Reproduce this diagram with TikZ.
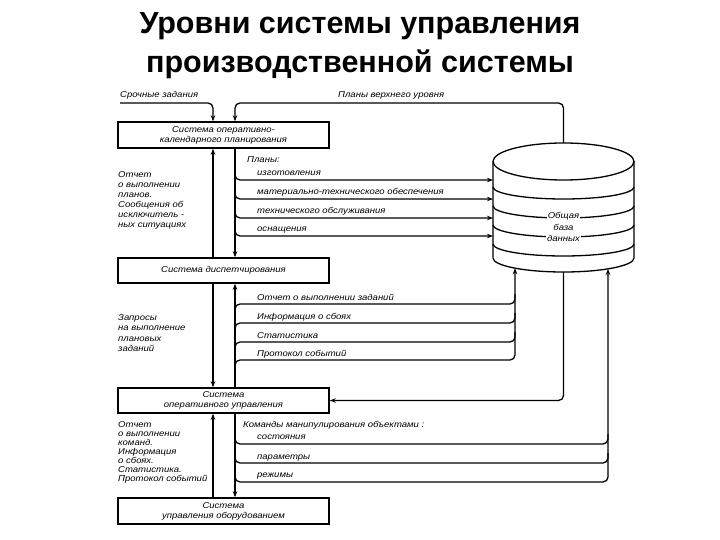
\documentclass[tikz,border=0pt]{standalone}
\usepackage{fontspec}
\setmainfont{Liberation Sans}
\newfontfamily\df[FakeStretch=1.12]{Liberation Sans}
\usetikzlibrary{arrows.meta}
\tikzset{
  tip/.tip={Stealth[length=6pt,width=4.5pt]},
  conn/.style={line width=1.3pt, rounded corners=5pt},
  box/.style={draw, line width=1.5pt, minimum width=211pt, minimum height=26pt, inner sep=0pt, align=center, font=\df\itshape\fontsize{8.5}{10}\selectfont},
  lbl/.style={inner sep=0pt, anchor=base west, font=\df\itshape\fontsize{8.5}{10}\selectfont},
  blk/.style={inner sep=0pt, anchor=north west, align=left},
  title/.style={inner sep=0pt, anchor=base, font=\bfseries\fontsize{30.5}{36}\selectfont}
}
\begin{document}
\begin{tikzpicture}[x=1pt,y=-1pt]
\useasboundingbox (0,0) rectangle (720,540);
% title
\node[title] (t1) at (360,34) {Уровни системы управления};
\node[title] (t2) at (360,73) {производственной системы};
% boxes
\node[box] (b1) at (223.5,135) {Система оперативно-\\календарного планирования};
\node[box, minimum height=25pt] (b2) at (223.5,270.5) {Система диспетчирования};
\node[box, minimum height=25pt] (b3) at (223.5,400.5) {Система\\оперативного управления};
\node[box] (b4) at (223.5,511) {Система\\управления оборудованием};
% database cylinder
\begin{scope}[line width=1.3pt]
\draw (493,161.5) -- (493,258) arc[start angle=180,end angle=360,x radius=70.5pt,y radius=14pt] -- (634,161.5);
\draw (563.5,161.5) ellipse[x radius=70.5pt, y radius=18.5pt];
\foreach \yy in {187,206,225,244}
  \draw (493,\yy) arc[start angle=180,end angle=360,x radius=70.5pt,y radius=12pt];
\end{scope}
\node[lbl, anchor=center, fill=white, inner sep=1pt] (db1) at (563.5,216.5) {Общая};
\node[lbl, anchor=center, inner sep=1pt] (db2) at (563.5,227.5) {база};
\node[lbl, anchor=center, fill=white, inner sep=1pt] (db3) at (563.5,238) {данных};
\coordinate (dbtop) at (563.5,143);
\coordinate (dbb1) at (515,268.2);
\coordinate (dbb2) at (563.5,272);
\coordinate (dbb3) at (608,268.9);
% top inputs
\coordinate (src) at (120,103);
\node[lbl] (tsr) at (120,98) {Срочные задания};
\node[lbl] (tpv) at (338,98) {Планы верхнего уровня};
\draw[conn,-tip] (src) -- (213,103) -- ([xshift=-10.5pt]b1.north);
\draw[conn,-tip] (dbtop) |- (235,103) -- ([xshift=11.5pt]b1.north);
% level 1 - 2
\draw[conn,-tip] ([xshift=-10.5pt]b2.north) -- ([xshift=-10.5pt]b1.south);
\draw[conn,-tip] ([xshift=11.5pt]b1.south) -- ([xshift=11.5pt]b2.north);
\node[blk, font=\df\itshape\fontsize{8.5}{10}\selectfont] (lt1) at (118,171) {Отчет\\о выполнении\\планов.\\Сообщения об\\исключитель -\\ных ситуациях};
\node[lbl] (pl) at (247,163) {Планы:};
\node[lbl] (p1) at (257,176) {изготовления};
\node[lbl] (p2) at (257,195) {материально-технического обеспечения};
\node[lbl] (p3) at (257,214) {технического обслуживания};
\node[lbl] (p4) at (257,232) {оснащения};
\foreach \yy in {180,199,218,236}
  \draw[conn,-tip] (235,\yy-10) -- (235,\yy) -- (493,\yy);
% level 2 - 3
\draw[conn,-tip] ([xshift=-10.5pt]b2.south) -- ([xshift=-10.5pt]b3.north);
\draw[conn,-tip] ([xshift=11.5pt]b3.north) -- ([xshift=11.5pt]b2.south);
\node[blk, font=\df\itshape\fontsize{8.5}{10.5}\selectfont] (lt2) at (118,314) {Запросы\\на выполнение\\плановых\\заданий};
\node[lbl] (r1) at (257,300) {Отчет о выполнении заданий};
\node[lbl] (r2) at (257,319) {Информация о сбоях};
\node[lbl] (r3) at (257,338) {Статистика};
\node[lbl] (r4) at (257,356) {Протокол событий};
\draw[conn,-tip] (235,370) -- (235,360) -- (515,360) -- (dbb1);
\foreach \yy in {304,323,342}
  \draw[conn] (235,\yy+10) -- (235,\yy) -- (515,\yy) -- (515,\yy-10);
\draw[conn,-tip] (dbb2) |- (b3.east);
% level 3 - 4
\draw[conn,-tip] ([xshift=-10.5pt]b4.north) -- ([xshift=-10.5pt]b3.south);
\draw[conn,-tip] ([xshift=11.5pt]b3.south) -- ([xshift=11.5pt]b4.north);
\node[blk, font=\df\itshape\fontsize{8.5}{9}\selectfont] (lt3) at (118,421) {Отчет\\о выполнении\\команд.\\Информация\\о сбоях.\\Статистика.\\Протокол событий};
\node[lbl] (c0) at (243,427) {Команды манипулирования объектами :};
\node[lbl] (c1) at (257,439) {состояния};
\node[lbl] (c2) at (257,459) {параметры};
\node[lbl] (c3) at (257,477) {режимы};
\draw[conn,-tip] (235,472) -- (235,482) -- (608,482) -- (dbb3);
\foreach \yy in {444,463}
  \draw[conn] (235,\yy-10) -- (235,\yy) -- (608,\yy) -- (608,\yy-10);
\end{tikzpicture}
\end{document}
